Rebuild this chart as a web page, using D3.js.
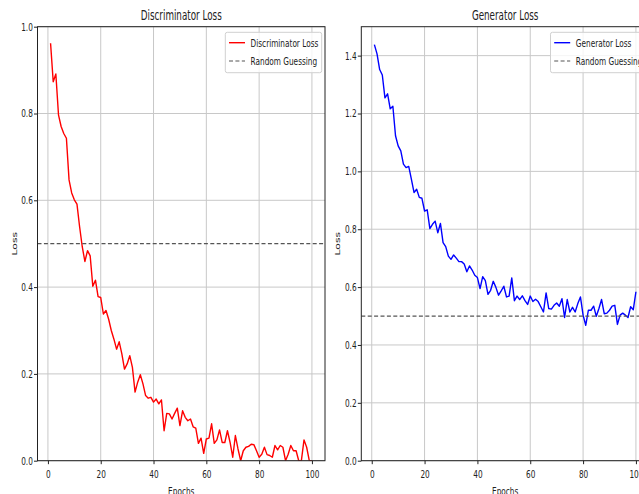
<!DOCTYPE html>
<html>
<head>
<meta charset="utf-8">
<script src="https://cdn.jsdelivr.net/npm/d3@7/dist/d3.min.js"></script>
<style>
  body { margin: 0; background: #fff; overflow: hidden; }
  text { font-family: 'DejaVu Sans', sans-serif; fill: #222; }
</style>
</head>
<body>
<div id="viz"></div>
<script>
let epochs = d3.range(1, 101);

let discLoss = [
  0.962, 0.873, 0.891, 0.797, 0.770, 0.754, 0.743, 0.647, 0.617, 0.601,
  0.591, 0.539, 0.493, 0.459, 0.484, 0.472, 0.402, 0.416, 0.378, 0.376,
  0.338, 0.346, 0.326, 0.300, 0.280, 0.257, 0.274, 0.246, 0.211, 0.223,
  0.242, 0.215, 0.158, 0.181, 0.198, 0.177, 0.150, 0.144, 0.146, 0.135,
  0.142, 0.131, 0.140, 0.069, 0.109, 0.108, 0.096, 0.109, 0.121, 0.081,
  0.115, 0.100, 0.092, 0.096, 0.078, 0.075, 0.040, 0.052, 0.017, 0.050,
  0.052, 0.085, 0.040, 0.048, 0.071, 0.042, 0.042, 0.069, 0.042, 0.008,
  0.058, 0.027, 0.000, 0.023, 0.031, 0.033, 0.038, 0.037, 0.023, 0.008,
  0.015, 0.031, 0.014, 0.012, 0.008, 0.035, 0.025, 0.035, 0.031, 0.000,
  0.015, 0.035, 0.023, 0.023, 0.000, 0.000, 0.048, 0.031, 0.000, 0.000
];

let genLoss = [
  1.438, 1.406, 1.352, 1.333, 1.254, 1.268, 1.216, 1.225, 1.123, 1.088,
  1.071, 1.025, 1.013, 1.017, 0.973, 0.927, 0.938, 0.910, 0.907, 0.863,
  0.867, 0.802, 0.817, 0.828, 0.788, 0.820, 0.754, 0.740, 0.707, 0.696,
  0.711, 0.700, 0.688, 0.688, 0.680, 0.653, 0.673, 0.659, 0.641, 0.633,
  0.595, 0.636, 0.622, 0.575, 0.589, 0.620, 0.599, 0.572, 0.587, 0.603,
  0.566, 0.569, 0.632, 0.553, 0.569, 0.557, 0.570, 0.553, 0.540, 0.569,
  0.550, 0.558, 0.550, 0.532, 0.514, 0.580, 0.526, 0.524, 0.537, 0.545,
  0.534, 0.560, 0.495, 0.557, 0.514, 0.530, 0.514, 0.543, 0.566, 0.503,
  0.468, 0.520, 0.520, 0.534, 0.499, 0.526, 0.557, 0.508, 0.510, 0.520,
  0.534, 0.537, 0.471, 0.503, 0.510, 0.503, 0.495, 0.532, 0.522, 0.584
];

let randomGuess = 0.5;
let xTicks = [0, 20, 40, 60, 80, 100];
let discTicks = [0, 0.2, 0.4, 0.6, 0.8, 1.0];
let genTicks = [0, 0.2, 0.4, 0.6, 0.8, 1.0, 1.2, 1.4];

const SX = 0.68;       // the figure is squeezed sideways, so is its text
const TITLE_SX = 0.64;
const FONT = 10.8;

let svg = d3.select('#viz')
  .append('svg')
  .attr('width', 639)
  .attr('height', 494);

buildPanel(svg, {
  id: 'disc',
  left: 37.5, right: 325,
  top: 26.7, bottom: 460.7,
  yMax: 1.0, yTicks: discTicks,
  values: discLoss,
  color: '#ff0000',
  title: 'Discriminator Loss',
  label: 'Discriminator Loss'
});

buildPanel(svg, {
  id: 'gen',
  left: 361.3, right: 649,
  top: 26.7, bottom: 460.7,
  yMax: 1.5, yTicks: genTicks,
  values: genLoss,
  color: '#0000ff',
  title: 'Generator Loss',
  label: 'Generator Loss'
});

function buildPanel(svg, p) {
  let x = d3.scaleLinear().domain([-3.95, 104.95]).range([p.left, p.right]);
  let y = d3.scaleLinear().domain([0, p.yMax]).range([p.bottom, p.top]);

  let g = svg.append('g').attr('class', `panel ${p.id}`);

  g.append('defs')
    .append('clipPath')
    .attr('id', `clip-${p.id}`)
    .append('rect')
    .attr('x', p.left)
    .attr('y', p.top)
    .attr('width', p.right - p.left)
    .attr('height', p.bottom - p.top);

  // grid
  g.append('g')
    .selectAll('line')
    .data(xTicks)
    .join('line')
    .attr('x1', d => x(d)).attr('x2', d => x(d))
    .attr('y1', p.top).attr('y2', p.bottom)
    .attr('stroke', '#c8c8c8')
    .attr('stroke-width', 1);

  g.append('g')
    .selectAll('line')
    .data(p.yTicks)
    .join('line')
    .attr('x1', p.left).attr('x2', p.right)
    .attr('y1', d => y(d)).attr('y2', d => y(d))
    .attr('stroke', '#c8c8c8')
    .attr('stroke-width', 1);

  let line = d3.line()
    .x((d, i) => x(epochs[i]))
    .y(d => y(d));

  let plot = g.append('g').attr('clip-path', `url(#clip-${p.id})`);

  plot.append('path')
    .datum(p.values)
    .attr('d', line)
    .attr('fill', 'none')
    .attr('stroke', p.color)
    .attr('stroke-width', 1.4)
    .attr('stroke-linejoin', 'round');

  plot.append('line')
    .attr('x1', p.left).attr('x2', p.right)
    .attr('y1', y(randomGuess)).attr('y2', y(randomGuess))
    .attr('stroke', '#555')
    .attr('stroke-width', 1.2)
    .attr('stroke-dasharray', '4,2.4');

  // axes
  let xAxis = g.append('g')
    .attr('transform', `translate(0,${p.bottom})`)
    .call(d3.axisBottom(x).tickValues(xTicks).tickFormat(d3.format('d'))
      .tickSizeInner(3.5).tickSizeOuter(0).tickPadding(5.8));

  let yAxis = g.append('g')
    .attr('transform', `translate(${p.left},0)`)
    .call(d3.axisLeft(y).tickValues(p.yTicks).tickFormat(d3.format('.1f'))
      .tickSizeInner(3.5).tickSizeOuter(0).tickPadding(1.2));

  [xAxis, yAxis].forEach(a => {
    a.select('.domain').remove();
    a.selectAll('line').attr('stroke', '#222');
    a.selectAll('text')
      .attr('font-family', "'DejaVu Sans', sans-serif")
      .attr('font-size', FONT)
      .attr('fill', '#222')
      .attr('transform', `scale(${SX},1)`);
  });
  yAxis.selectAll('text').attr('x', -4.7 / SX);

  // spines
  g.append('rect')
    .attr('x', p.left)
    .attr('y', p.top)
    .attr('width', p.right - p.left)
    .attr('height', p.bottom - p.top)
    .attr('fill', 'none')
    .attr('stroke', '#222')
    .attr('stroke-width', 1);

  let cx = (p.left + p.right) / 2;

  g.append('text')
    .text(p.title)
    .attr('text-anchor', 'middle')
    .attr('transform', `translate(${cx},20) scale(${TITLE_SX},1)`)
    .style('font-size', '13.7px');

  g.append('text')
    .text('Epochs')
    .attr('text-anchor', 'middle')
    .attr('transform', `translate(${cx},494.5) scale(${SX},1)`)
    .style('font-size', FONT + 'px');

  g.append('text')
    .text('Loss')
    .attr('text-anchor', 'middle')
    .attr('transform', `translate(${p.left - 21},${(p.top + p.bottom) / 2}) scale(${SX},1) rotate(-90)`)
    .style('font-size', FONT + 'px');

  buildLegend(g, p);
}

function buildLegend(g, p) {
  let items = [
    { label: p.label, color: p.color, dash: null },
    { label: 'Random Guessing', color: '#555', dash: '4,2.4' }
  ];

  let leg = g.append('g').attr('class', 'legend');
  let box = leg.append('rect');

  let rows = leg.selectAll('g.item')
    .data(items)
    .join('g')
    .attr('class', 'item')
    .attr('transform', (d, i) => `translate(0,${42.7 + i * 18.3})`);

  rows.append('line')
    .attr('x1', 3.7).attr('x2', 19.7)
    .attr('stroke', d => d.color)
    .attr('stroke-width', d => d.dash ? 1.2 : 1.4)
    .attr('stroke-dasharray', d => d.dash);

  let labels = rows.append('text')
    .text(d => d.label)
    .attr('transform', `translate(25.3,3.8) scale(${SX},1)`)
    .style('font-size', FONT + 'px');

  let textW = d3.max(labels.nodes(), n => n.getComputedTextLength()) * SX;
  let w = 25.3 + textW + 3.4;
  let x0 = p.right - 3.3 - w;

  box.attr('x', 0)
    .attr('y', 32.3)
    .attr('width', w)
    .attr('height', 40.4)
    .attr('rx', 2)
    .attr('fill', 'white')
    .attr('fill-opacity', 0.8)
    .attr('stroke', '#d0d0d0')
    .attr('stroke-width', 1);

  leg.attr('transform', `translate(${x0},0)`);
}
</script>
</body>
</html>
